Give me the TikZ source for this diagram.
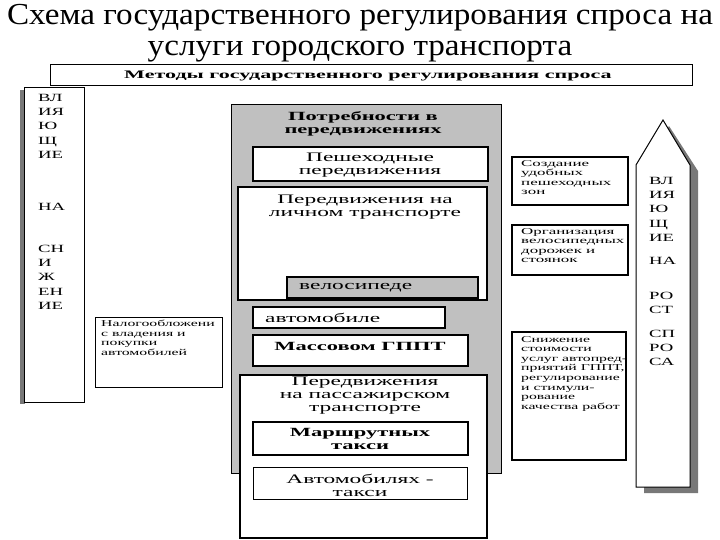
\documentclass[tikz,border=0pt]{standalone}
\usepackage{fontspec}
\setmainfont{Liberation Serif}
\newfontfamily\fntTitle[FakeStretch=1.087]{Liberation Serif}
\newfontfamily\fntBig[FakeStretch=1.8]{Liberation Serif}
\newfontfamily\fntCol[FakeStretch=1.7]{Liberation Serif}
\newfontfamily\fntSmall[FakeStretch=1.75]{Liberation Serif}
\newfontfamily\fntRight[FakeStretch=1.88]{Liberation Serif}
\newfontfamily\fntMethods[FakeStretch=1.92]{Liberation Serif}
\definecolor{panelgray}{RGB}{192,192,192}
\definecolor{shadowgray}{RGB}{120,120,120}
\tikzset{
  box/.style={draw=black,line width=1.6pt,fill=white},
  thinbox/.style={draw=black,line width=1pt,fill=white},
  txt/.style={inner sep=0pt,align=center},
  big/.style={font=\fntBig\fontsize{13}{13}\selectfont},
  bigb/.style={font=\fntBig\bfseries\fontsize{12.5}{13}\selectfont},
  small/.style={font=\fntSmall\fontsize{9}{9.6}\selectfont,align=left,anchor=north west,inner sep=0pt},
  rsmall/.style={font=\fntRight\fontsize{9}{9.6}\selectfont,align=left,anchor=north west,inner sep=0pt},
  col/.style={font=\fntCol\fontsize{11}{14.2}\selectfont,align=left,anchor=north west,inner sep=0pt},
}
\begin{document}
\begin{tikzpicture}[x=1pt,y=-1pt]
\useasboundingbox (0,0) rectangle (720,540);
% title
\node[txt,font=\fntTitle\fontsize{30.5}{34}\selectfont] (t1) at (360,17.5) {Схема государственного регулирования спроса на};
\node[txt,font=\fntTitle\fontsize{30.5}{34}\selectfont] (t2) at (360,51.5) {услуги городского транспорта};
% top box
\draw[thinbox] (50,65) rectangle (692,86);
\node[txt,font=\fntMethods\bfseries\fontsize{11.5}{12}\selectfont] (methods) at (368,76) {Методы государственного регулирования спроса};
% left column
\fill[shadowgray] (20,90) rectangle (25,404);
\draw[thinbox] (24,88) rectangle (84,402);
\node[col] (lt1) at (38,94) {ВЛ\\ИЯ\\Ю\\Щ\\ИЕ};
\node[col] (lt2) at (38,203) {НА};
\node[col] (lt3) at (38,245) {СН\\И\\Ж\\ЕН\\ИЕ};
% tax box
\draw[thinbox] (95,317) rectangle (222,387);
\node[small] (tax) at (101,320) {Налогообложени\\с владения и\\покупки\\автомобилей};
% gray panel
\draw[draw=black,line width=0.8pt,fill=panelgray] (231,104) rectangle (501,473);
\node[txt,bigb] (needs) at (363,124) {Потребности в\\передвижениях};
\draw[box] (253,147) rectangle (488,181);
\node[txt,big] (walk) at (370,165) {Пешеходные\\передвижения};
\draw[box] (238,187) rectangle (487,300);
\node[txt,big] (personal) at (365,207) {Передвижения на\\личном транспорте};
\draw[draw=black,line width=1.6pt,fill=panelgray] (287,277) rectangle (478,298);
\node[txt,big,anchor=west] (bike) at (299,288) {велосипеде};
\draw[box] (253,307) rectangle (445,328);
\node[txt,big,anchor=west] (car) at (265,318) {автомобиле};
\draw[box] (253,335) rectangle (468,366);
\node[txt,bigb] (mass) at (360,346) {Массовом ГППТ};
\draw[box] (240,375) rectangle (487,538);
\node[txt,big] (passenger) at (365,396) {Передвижения\\на пассажирском\\транспорте};
\draw[box] (253,422) rectangle (468,455);
\node[txt,bigb] (minibus) at (360,439) {Маршрутных\\такси};
\draw[thinbox] (253,467) rectangle (467,499);
\node[txt,big] (taxi) at (360,485) {Автомобилях -\\такси};
% right boxes
\draw[box] (512,157) rectangle (628,205);
\node[rsmall] (r1) at (521,160) {Создание\\удобных\\пешеходных\\зон};
\draw[box] (512,225) rectangle (628,275);
\node[rsmall] (r2) at (521,228) {Организация\\велосипедных\\дорожек и\\стоянок};
\draw[box] (512,332) rectangle (626,460);
\node[small] (r3) at (521,336) {Снижение\\стоимости\\услуг автопред-\\приятий ГППТ,\\регулирование\\и стимули-\\рование\\качества работ};
% right arrow
\fill[shadowgray] (644,171) -- (669,126) -- (698,171) -- (698,493) -- (644,493) -- cycle;
\draw[thinbox] (636,165) -- (663,120) -- (690,165) -- (690,487) -- (636,487) -- cycle;
\node[col] (ra1) at (649,177) {ВЛ\\ИЯ\\Ю\\Щ\\ИЕ};
\node[col] (ra2) at (649,257) {НА};
\node[col] (ra3) at (649,292) {РО\\СТ};
\node[col] (ra4) at (649,330) {СП\\РО\\СА};
\end{tikzpicture}
\end{document}
